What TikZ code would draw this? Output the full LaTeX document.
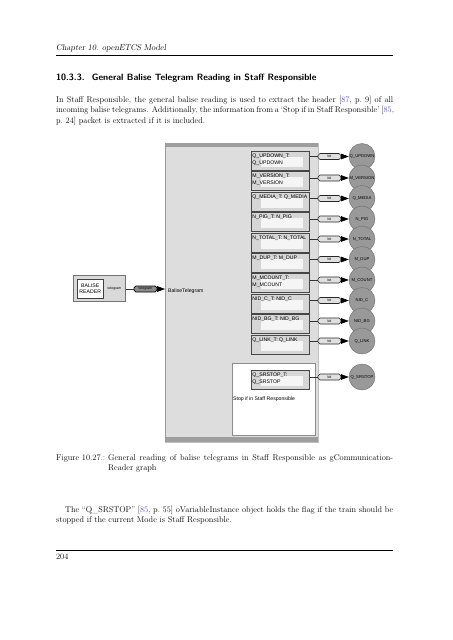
\documentclass[tikz,border=0pt]{standalone}
\usepackage{fontspec}
\newfontfamily\diagfont{Liberation Sans}
\usetikzlibrary{arrows.meta}
\definecolor{linkblue}{RGB}{70,70,210}
\definecolor{contfill}{gray}{0.865}
\definecolor{contband}{gray}{0.62}
\definecolor{boxfill}{gray}{0.84}
\definecolor{boxinner}{gray}{0.96}
\definecolor{boxdraw}{gray}{0.28}
\definecolor{pillfill}{gray}{0.88}
\definecolor{circfill}{gray}{0.60}
\definecolor{circdraw}{gray}{0.45}
\definecolor{tpillfill}{gray}{0.55}
\newcommand{\bodyfont}{\fontsize{11}{13.6}\selectfont}
\begin{document}
\begin{tikzpicture}[x=1.3156pt,y=-1.3156pt,
  txt/.style={anchor=base west, inner sep=0pt, font=\bodyfont},
  tbox/.style={draw=boxdraw, line width=0.9pt, fill=boxfill, minimum width={58*1.3156pt}, minimum height={18.5*1.3156pt}, anchor=north west, inner sep=0pt},
  btext/.style={anchor=north west, inner sep=0pt, align=left, font={\diagfont\fontsize{6.8}{9.2}\selectfont}},
  pill/.style={draw=black!85, line width=0.7pt, fill=pillfill, rounded corners=2.5pt, minimum width={23*1.3156pt}, minimum height={6*1.3156pt}, inner sep=0pt, font={\diagfont\fontsize{4.6}{5}\selectfont}},
  circ/.style={circle, draw=circdraw, line width=0.6pt, fill=circfill, minimum size={26*1.3156pt}, inner sep=0pt, font={\diagfont\fontsize{5.5}{6}\selectfont}},
  conn/.style={draw=black!80, line width=0.7pt},
  arr/.style={draw=black, line width=0.8pt, -{Triangle[length=10.5pt,width=7.5pt]}},
  dlabel/.style={inner sep=0pt, font={\diagfont\fontsize{6.8}{8.6}\selectfont}}
]
\useasboundingbox[fill=white] (0,0) rectangle (453,640);

% header
\node[txt] (hdr) at (56,50.5) {\slshape Chapter 10. openETCS Model};
\draw[line width=0.6pt] (56,55.3) -- (393,55.3);

% section heading
\node[anchor=base west, inner sep=0pt, font={\fontsize{12}{14}\selectfont\sffamily\bfseries}] (sec) at (56,80) {10.3.3.\hspace{0.8em}General Balise Telegram Reading in Staff Responsible};

% paragraph 1
\node[txt] (p1a) at (56,102) {\makebox[443.4pt][s]{In Staff Responsible, the general balise reading is used to extract the header [\textcolor{linkblue}{87}, p.~9] of all}};
\node[txt] (p1b) at (56,112.5) {\makebox[443.4pt][s]{incoming balise telegrams. Additionally, the information from a `Stop if in Staff Responsible' [\textcolor{linkblue}{85},}};
\node[txt] (p1c) at (56,123) {p.~24] packet is extracted if it is included.};

% ---------- diagram ----------
% container
\node[fill=contfill, draw=black!25, line width=0.6pt, minimum width={153*1.3156pt}, minimum height={299*1.3156pt}, anchor=north west, inner sep=0pt] (cont) at (165,143) {};
\fill[contband] (165,143) rectangle (318,146.5);
\fill[contband] (165,437) rectangle (318,442);
\draw[black!40, line width=1.2pt] (165.6,143) -- (165.6,442);
% white sub box
\node[fill=white, draw=black!45, line width=0.8pt, minimum width={83*1.3156pt}, minimum height={72*1.3156pt}, anchor=north west, inner sep=0pt] (srbox) at (232,363) {};
\node[dlabel, anchor=base west] (srlab) at (233,400.5) {Stop if in Staff Responsible};

\foreach \i/\top/\cy/\tx/\cl in {
  1/151/156.5/{Q\_UPDOWN\_T:\\Q\_UPDOWN}/Q\_UPDOWN,
  2/171/178/{M\_VERSION\_T:\\M\_VERSION}/M\_VERSION,
  3/192/198.5/{Q\_MEDIA\_T: Q\_MEDIA}/Q\_MEDIA,
  4/212/219/{N\_PIG\_T: N\_PIG}/N\_PIG,
  5/233/239/{N\_TOTAL\_T: N\_TOTAL}/N\_TOTAL,
  6/253/259.5/{M\_DUP\_T: M\_DUP}/M\_DUP,
  7/273/280/{M\_MCOUNT\_T:\\M\_MCOUNT}/M\_COUNT,
  8/294/300.5/{NID\_C\_T: NID\_C}/NID\_C,
  9/314/321/{NID\_BG\_T: NID\_BG}/NID\_BG,
  10/335/341/{Q\_LINK\_T: Q\_LINK}/Q\_LINK,
  11/370/377/{Q\_SRSTOP\_T:\\Q\_SRSTOP}/Q\_SRSTOP}{
  \node[tbox] (b\i) at (251,\top) {};
  \fill[boxinner] (261,{\top+6}) rectangle (303,{\top+16});
  \node[btext] (bt\i) at (252.3,{\top+2.6}) {\tx};
  \node[pill] (p\i) at (329.5,\cy) {bit};
  \node[circ] (c\i) at (362,\cy) {\cl};
  \draw[conn] (b\i.east |- p\i) -- (p\i.west);
  \draw[arr] (p\i.east) -- (c\i.west);
}

% balise reader
\node[fill=black!15, draw=black!55, line width=1.1pt, minimum width={52*1.3156pt}, minimum height={26*1.3156pt}, anchor=north west, inner sep=0pt] (reader) at (73,275) {};
\node[fill=white, draw=black!75, line width=0.7pt, minimum width={26*1.3156pt}, minimum height={19*1.3156pt}, anchor=north west, inner sep=0pt, align=center, font={\diagfont\fontsize{6.8}{8.6}\selectfont}] (rin) at (77,279) {BALISE\\READER};
\node[inner sep=0pt, font={\diagfont\fontsize{4.6}{5}\selectfont}] (rport) at (114.5,288.5) {telegram};
\node[pill, fill=tpillfill, draw=black, line width=0.8pt] (tp) at (145.5,289) {telegram};
\draw[conn] (reader.east |- tp) -- (tp.west);
\draw[arr] (tp.east) -- (cont.west |- tp);
\node[dlabel, anchor=west] (btl) at (168,291.5) {BaliseTelegram};

% caption
\node[txt] (figl) at (56,460) {Figure 10.27.:};
\node[txt] (cap1) at (108,460) {\makebox[375pt][s]{General reading of balise telegrams in Staff Responsible as gCommunication-}};
\node[txt] (cap2) at (108,470.3) {Reader graph};

% paragraph 2
\node[txt] (p2a) at (65,512) {\makebox[431.6pt][s]{The ``Q\_SRSTOP'' [\textcolor{linkblue}{85}, p.~55] oVariableInstance object holds the flag if the train should be}};
\node[txt] (p2b) at (56,522.3) {stopped if the current Mode is Staff Responsible.};

% footer
\draw[line width=0.6pt] (56,550.3) -- (393,550.3);
\node[txt] (pg) at (56,559) {204};
\end{tikzpicture}
\end{document}
